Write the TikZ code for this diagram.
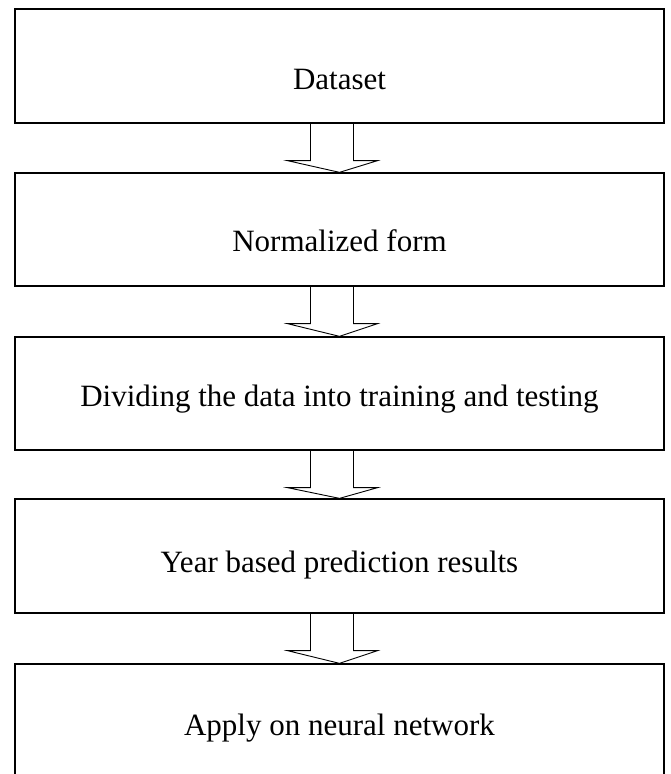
\documentclass[tikz,border=0pt]{standalone}
\usepackage{fontspec}
\setmainfont{Liberation Serif}
\usetikzlibrary{calc}
\begin{document}
\begin{tikzpicture}[x=1pt,y=-1pt,
    stage/.style={draw,line width=1.3pt,minimum width=649pt,inner sep=0pt},
    label/.style={anchor=base,font=\fontsize{31}{34}\selectfont},
    flow/.style={draw,line width=0.9pt,line join=miter}]
    \useasboundingbox (0,0) rectangle (670,774);
    \clip (0,0) rectangle (670,774);
    \node[stage,minimum height=114pt] (dataset) at (339.5,66) {};
    \node[stage,minimum height=113pt] (norm) at (339.5,229.5) {};
    \node[stage,minimum height=113pt] (divide) at (339.5,393.5) {};
    \node[stage,minimum height=114pt] (year) at (339.5,556) {};
    \node[stage,minimum height=122pt] (apply) at (339.5,725) {};
    \node[label] (tdataset) at (339.5,89) {Dataset};
    \node[label] (tnorm) at (339.5,251) {Normalized form};
    \node[label] (tdivide) at (339.5,406) {Dividing the data into training and testing};
    \node[label] (tyear) at (339.5,572) {Year based prediction results};
    \node[label] (tapply) at (339.5,735) {Apply on neural network};
    % hollow arrows between the stages
    \foreach \a/\b in {dataset/norm,norm/divide,divide/year,year/apply}{
        \draw[flow] ($(\a.south)+(-29,0)$) -- ($(\a.south)+(-29,37)$)
            -- ($(\a.south)+(-52,37)$) -- (\b.north)
            -- ($(\a.south)+(38,37)$) -- ($(\a.south)+(14,37)$)
            -- ($(\a.south)+(14,0)$);
    }
\end{tikzpicture}
\end{document}
